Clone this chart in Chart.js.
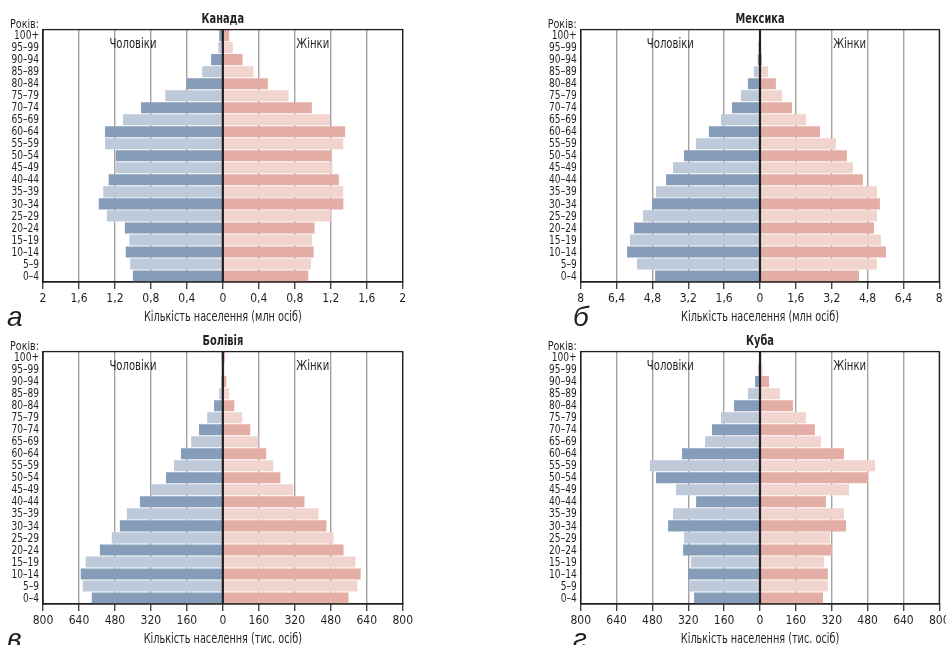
<!DOCTYPE html>
<html>
<head>
<meta charset="utf-8">
<script src="https://cdn.jsdelivr.net/npm/chart.js@4"></script>
<style>
  html, body { margin: 0; padding: 0; background: #fff; overflow: hidden; }
  .box { position: absolute; width: 420px; height: 332px; }
</style>
</head>
<body>
<div class="box" style="left:0;top:0"><canvas id="canada"></canvas></div>
<div class="box" style="left:537px;top:0"><canvas id="mexico"></canvas></div>
<div class="box" style="left:0;top:322px"><canvas id="bolivia"></canvas></div>
<div class="box" style="left:537px;top:322px"><canvas id="cuba"></canvas></div>
<script>
// age groups, bottom (0–4) to top (100+)
const ages = ['0–4', '5–9', '10–14', '15–19', '20–24', '25–29', '30–34', '35–39', '40–44', '45–49',
  '50–54', '55–59', '60–64', '65–69', '70–74', '75–79', '80–84', '85–89', '90–94', '95–99', '100+'];

// Канада, млн осіб
const canadaMen   = [1.00, 1.03, 1.08, 1.04, 1.09, 1.29, 1.38, 1.33, 1.27, 1.19, 1.19, 1.31, 1.31, 1.11, 0.91, 0.64, 0.40, 0.23, 0.13, 0.05, 0.04];
const canadaWomen = [0.95, 0.98, 1.01, 0.99, 1.02, 1.20, 1.34, 1.34, 1.29, 1.22, 1.21, 1.34, 1.36, 1.19, 0.99, 0.73, 0.50, 0.34, 0.22, 0.11, 0.07];

// Мексика, млн осіб
const mexicoMen   = [4.68, 5.49, 5.93, 5.80, 5.62, 5.22, 4.82, 4.64, 4.19, 3.88, 3.39, 2.86, 2.28, 1.74, 1.25, 0.85, 0.54, 0.27, 0.10, 0.08, 0.01];
const mexicoWomen = [4.42, 5.22, 5.62, 5.40, 5.09, 5.22, 5.35, 5.22, 4.59, 4.15, 3.88, 3.39, 2.68, 2.05, 1.43, 0.98, 0.71, 0.36, 0.09, 0.05, 0.04];

// Болівія, тис. осіб
const boliviaMen   = [583, 623, 632, 610, 547, 494, 458, 427, 369, 320, 253, 217, 186, 141, 106, 70, 39, 16, 6, 4, 5];
const boliviaWomen = [559, 599, 613, 590, 537, 492, 461, 425, 363, 314, 256, 225, 193, 158, 122, 86, 51, 28, 15, 8, 9];

// Куба, тис. осіб
const cubaMen   = [294, 317, 321, 308, 343, 339, 410, 388, 285, 375, 464, 491, 348, 245, 214, 174, 116, 54, 22, 9, 2];
const cubaWomen = [281, 303, 303, 285, 321, 312, 384, 375, 294, 397, 482, 513, 375, 272, 245, 205, 147, 89, 40, 12, 6];

const FONT = '"Liberation Sans Narrow", "DejaVu Sans Condensed", sans-serif';
const INK = '#231f20';
Chart.defaults.font.family = FONT;
Chart.defaults.color = INK;

const menDark = '#859db9', menLight = '#bec9da';
const womenDark = '#e4aea6', womenLight = '#f2d4cf';

function fmt(n) {
  return String(Math.round(Math.abs(n) * 10) / 10).replace('.', ',');
}

// the original uses a condensed face, so squeeze the text a bit
function narrowText(ctx, str, x, y, align, sx) {
  ctx.save();
  ctx.translate(x, y);
  ctx.scale(sx, 1);
  ctx.textAlign = align;
  ctx.fillText(str, 0, 0);
  ctx.restore();
}

// frame, centre line, age labels and the extra texts
const pyramidDecor = {
  id: 'pyramidDecor',
  afterDraw(chart) {
    const o = chart.options.plugins.pyramidDecor;
    const a = chart.chartArea;
    const xs = chart.scales.x;
    const ys = chart.scales.y;
    const ctx = chart.ctx;
    ctx.save();
    ctx.strokeStyle = INK;
    ctx.lineWidth = 1.3;
    ctx.strokeRect(a.left, a.top, a.right - a.left, a.bottom - a.top);
    const x0 = xs.getPixelForValue(0);
    ctx.lineWidth = 2.2;
    ctx.beginPath();
    ctx.moveTo(x0, a.top);
    ctx.lineTo(x0, a.bottom);
    ctx.stroke();

    ctx.fillStyle = INK;
    ctx.textBaseline = 'middle';
    ctx.font = '12px ' + FONT;
    chart.data.labels.forEach((lab, i) => {
      narrowText(ctx, lab, a.left - 4, ys.getPixelForTick(i) + 0.5, 'right', 0.84);
    });

    ctx.textBaseline = 'alphabetic';
    ctx.font = 'bold 14px ' + FONT;
    narrowText(ctx, o.title, (a.left + a.right) / 2, a.top - 7, 'center', 0.78);

    ctx.font = '13px ' + FONT;
    narrowText(ctx, 'Років:', a.left - 4, a.top - 1.5, 'right', 0.82);

    ctx.font = '14px ' + FONT;
    narrowText(ctx, 'Чоловіки', xs.getPixelForValue(-o.max / 2), a.top + 18.5, 'center', 0.8);
    narrowText(ctx, 'Жінки', xs.getPixelForValue(o.max / 2), a.top + 18.5, 'center', 0.8);

    ctx.font = '13.5px ' + FONT;
    narrowText(ctx, 'Кількість населення (' + o.unit + ')', (a.left + a.right) / 2, a.bottom + 38.5, 'center', 0.8);

    ctx.font = 'italic 28px "Liberation Sans", sans-serif';
    ctx.textAlign = 'left';
    ctx.fillText(o.letter, o.letterX, a.bottom + 43.5);
    ctx.restore();
  }
};

function pyramid(id, title, letter, letterX, unit, max, step, men, women, yWidth, padRight) {
  new Chart(document.getElementById(id), {
    type: 'bar',
    data: {
      labels: ages,
      datasets: [
        {
          label: 'Чоловіки',
          data: men.map(v => -v),
          backgroundColor: ages.map((_, i) => i % 2 ? menLight : menDark),
          barPercentage: 0.92,
          categoryPercentage: 1,
        },
        {
          label: 'Жінки',
          data: women,
          backgroundColor: ages.map((_, i) => i % 2 ? womenLight : womenDark),
          barPercentage: 0.92,
          categoryPercentage: 1,
        },
      ],
    },
    options: {
      indexAxis: 'y',
      responsive: true,
      maintainAspectRatio: false,
      animation: false,
      layout: { padding: { top: 29.6, right: padRight, bottom: 8, left: 0 } },
      plugins: {
        legend: { display: false },
        tooltip: { enabled: false },
        pyramidDecor: { title, letter, letterX, max, unit },
      },
      scales: {
        x: {
          stacked: true,
          min: -max,
          max: max,
          ticks: {
            stepSize: step,
            padding: 3,
            font: { size: 12 },
            color: INK,
            maxRotation: 0,
            callback: v => fmt(v),
          },
          grid: {
            color: c => c.tick && c.tick.value === 0 ? 'rgba(0,0,0,0)' : '#a3a3a3',
            lineWidth: 1.4,
            tickColor: '#444',
            tickLength: 7,
          },
          border: { display: true, color: INK, width: 1.3 },
          afterFit: s => { s.height = 42; },
        },
        y: {
          stacked: true,
          reverse: true,
          ticks: { display: false, autoSkip: false },
          grid: { display: false, drawTicks: false, tickLength: 0 },
          border: { display: true, color: INK, width: 1.3 },
          afterFit: s => { s.width = yWidth; },
        },
      },
    },
    plugins: [pyramidDecor],
  });
}

pyramid('canada', 'Канада', 'а', 7, 'млн осіб', 2, 0.4, canadaMen, canadaWomen, 43, 17.3);
pyramid('mexico', 'Мексика', 'б', 36, 'млн осіб', 8, 1.6, mexicoMen, mexicoWomen, 43.7, 17.7);
pyramid('bolivia', 'Болівія', 'в', 7, 'тис. осіб', 800, 160, boliviaMen, boliviaWomen, 43, 17.3);
pyramid('cuba', 'Куба', 'г', 36, 'тис. осіб', 800, 160, cubaMen, cubaWomen, 43.7, 17.7);
</script>
</body>
</html>
